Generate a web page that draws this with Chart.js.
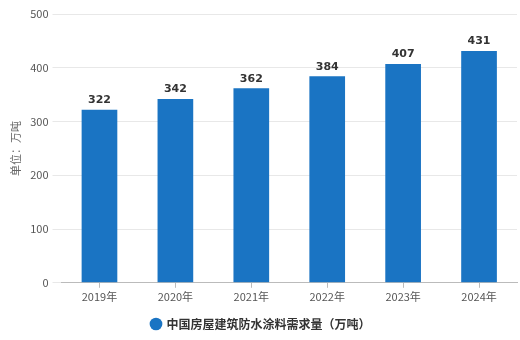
<!DOCTYPE html>
<html lang="zh">
<head>
<meta charset="UTF-8">
<title>中国房屋建筑防水涂料需求量</title>
<script src="https://cdn.jsdelivr.net/npm/chart.js"></script>
<style>
  html, body { margin: 0; padding: 0; background: #fff; }
  #box { width: 520px; height: 340px; }
</style>
</head>
<body>
<div id="box"><canvas id="myChart"></canvas></div>
<script>
// data
const years = ['2019年', '2020年', '2021年', '2022年', '2023年', '2024年'];
const demand = [322, 342, 362, 384, 407, 431];
const seriesName = '中国房屋建筑防水涂料需求量（万吨）';
const yTitle = '单位：万吨';

Chart.defaults.font.family = '"Noto Sans CJK SC", "Noto Sans", sans-serif';

// small plugin to write the value above each bar
const valueLabels = {
    id: 'valueLabels',
    afterDatasetsDraw(chart) {
        const ctx = chart.ctx;
        const meta = chart.getDatasetMeta(0);
        ctx.save();
        ctx.font = 'bold 11px "DejaVu Sans", sans-serif';
        ctx.fillStyle = '#333';
        ctx.textAlign = 'center';
        ctx.textBaseline = 'bottom';
        meta.data.forEach((bar, i) => {
            ctx.fillText(chart.data.datasets[0].data[i], bar.x, bar.y - 4);
        });
        ctx.restore();
    }
};

const ctx = document.getElementById('myChart').getContext('2d');
new Chart(ctx, {
    type: 'bar',
    data: {
        labels: years,
        datasets: [{
            label: seriesName,
            data: demand,
            backgroundColor: '#1a74c3',
            barPercentage: 0.47,
            categoryPercentage: 1
        }]
    },
    options: {
        responsive: true,
        maintainAspectRatio: false,
        animation: false,
        layout: { padding: { top: 14, right: 3, left: 5, bottom: 0 } },
        plugins: {
            legend: {
                position: 'bottom',
                labels: {
                    usePointStyle: true,
                    pointStyle: 'circle',
                    boxWidth: 9,
                    boxHeight: 9,
                    color: '#333',
                    font: { size: 12, weight: 'bold' },
                    padding: 8
                }
            },
            tooltip: { enabled: false }
        },
        scales: {
            x: {
                grid: { offset: false, drawOnChartArea: false, tickLength: 5, color: '#bbb' },
                border: { color: '#bbb' },
                ticks: { color: '#555', font: { size: 11 }, padding: 2 },
                afterFit(scale) { scale.height += 5; }
            },
            y: {
                min: 0,
                max: 500,
                ticks: { stepSize: 100, color: '#555', font: { size: 11 }, padding: 4 },
                grid: { color: '#e8e8e8', tickLength: 9 },
                border: { display: false },
                title: { display: true, text: yTitle, color: '#666', font: { size: 11 } }
            }
        }
    },
    plugins: [valueLabels]
});
</script>
</body>
</html>
